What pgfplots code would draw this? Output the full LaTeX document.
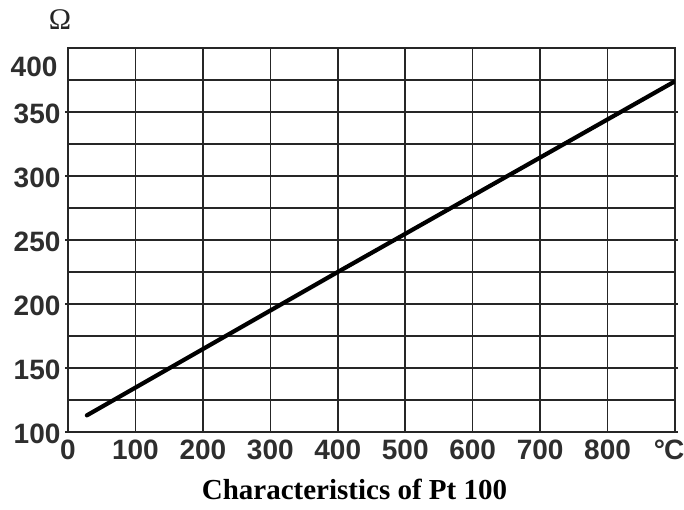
\documentclass[border=0pt]{standalone}
\usepackage{pgfplots}
\pgfplotsset{compat=1.18}
\usepackage{fontspec}
\setmainfont{Liberation Serif}
\newfontfamily\arialfont{Liberation Sans}
\begin{document}
\begin{tikzpicture}
\path[use as bounding box] (0,0) rectangle (684pt,510pt);
\begin{axis}[
  at={(68pt,78pt)}, anchor=south west,
  scale only axis, width=607pt, height=384pt,
  xmin=0, xmax=900, ymin=100, ymax=400,
  xtick={0,100,...,900},
  xticklabels={0,100,200,300,400,500,600,700,800,{\hspace*{-12pt}\textdegree\kern-1pt C}},
  ytick={100,150,...,350},
  minor ytick={125,175,...,375},
  extra y ticks={387}, extra y tick labels={400},
  extra y tick style={grid=none, yticklabel style={xshift=-3pt}, ytick style={draw=none}},
  grid=both,
  major grid style={line width=1.6pt, color=black!85},
  minor grid style={line width=1.6pt, color=black!85},
  axis line style={line width=1.8pt, color=black!85},
  xtick style={draw=none},
  ytick style={line width=1.6pt, color=black!85},
  tick align=outside,
  major tick length=3pt, minor tick length=0pt,
  /pgf/number format/assume math mode=true,
  /pgf/number format/1000 sep={},
  tick label style={font=\arialfont\bfseries\fontsize{28}{28}\selectfont, text=black!82},
  xticklabel style={yshift=-1pt},
  yticklabel style={xshift=-1pt, yshift=-2pt},
  ylabel={\fontsize{30}{30}\selectfont Ω},
  ylabel style={rotate=-90, at={(axis description cs:0,1)}, anchor=center, xshift=-8pt, yshift=28pt, text=black!85},
  xlabel={\textbf{Characteristics of Pt 100}},
  xlabel style={at={(axis description cs:0.5,0)}, anchor=center, xshift=-17pt, yshift=-57pt, font=\fontsize{29}{29}\selectfont},
]
\addplot[line width=4.2pt, color=black, line cap=round] coordinates {(28,113) (400,225) (900,374)};
\end{axis}
\end{tikzpicture}
\end{document}
